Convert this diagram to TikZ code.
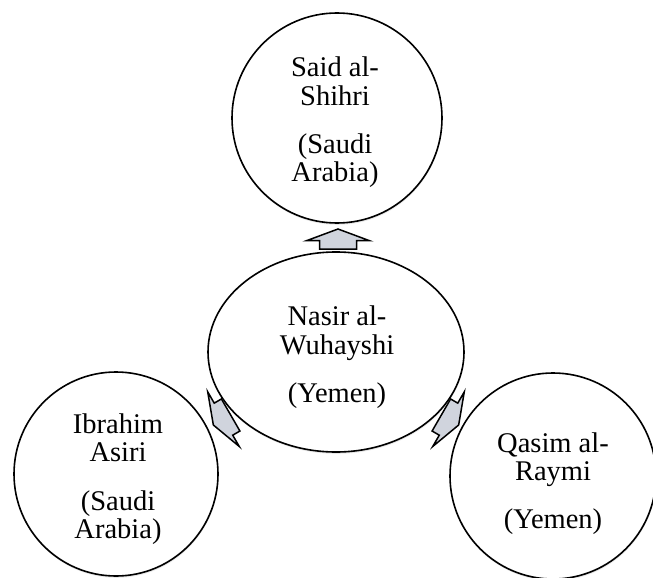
\documentclass[tikz,border=0pt]{standalone}
\usepackage{fontspec}
\setmainfont{Liberation Serif}
\usetikzlibrary{shapes.geometric,shadows}
\definecolor{arrowfill}{RGB}{208,212,221}
\begin{document}
\begin{tikzpicture}[x=1pt,y=-1pt,
  bubble/.style={draw=black, line width=1.6pt, fill=white, inner sep=0pt,
    drop shadow={opacity=0.18, shadow xshift=0.4pt, shadow yshift=-1.8pt}},
  ring/.style={bubble, circle},
  oval/.style={bubble, ellipse},
  nametext/.style={font=\fontsize{28.5}{28.5}\selectfont, anchor=base, inner sep=0pt},
  blockarrow/.style={draw=black, line width=1.5pt, fill=arrowfill, line join=miter}]
\useasboundingbox (0,0) rectangle (653,578);
% block arrows (drawn first, tails tucked under the central oval)
\begin{scope}[shift={(338,239)}]
  \draw[blockarrow] (0,-10) -- (31.5,1.7) -- (18.5,1.7) -- (18.5,10) -- (-18.5,10) -- (-18.5,1.7) -- (-31.5,1.7) -- cycle;
\end{scope}
\begin{scope}[shift={(222,420)}, rotate=120]
  \draw[blockarrow] (0,-10) -- (31.5,1.7) -- (18.5,1.7) -- (18.5,10) -- (-18.5,10) -- (-18.5,1.7) -- (-31.5,1.7) -- cycle;
\end{scope}
\begin{scope}[shift={(450,420)}, rotate=-120]
  \draw[blockarrow] (0,-10) -- (31.5,1.7) -- (18.5,1.7) -- (18.5,10) -- (-18.5,10) -- (-18.5,1.7) -- (-31.5,1.7) -- cycle;
\end{scope}
% shapes
\node[ring, minimum size=210pt] (said) at (337,118) {};
\node[oval, minimum width=256pt, minimum height=200pt] (nasir) at (336,352) {};
\node[ring, minimum size=204pt] (ibrahim) at (116,474) {};
\node[ring, minimum size=206pt] (qasim) at (553,476) {};
% texts
\node[nametext] (saidT) at (335,76.7) {\begin{tabular}[t]{@{}c@{}}Said al-\\Shihri\\[19.5pt](Saudi\\Arabia)\end{tabular}};
\node[nametext] (nasirT) at (337,325.7) {\begin{tabular}[t]{@{}c@{}}Nasir al-\\Wuhayshi\\[20pt](Yemen)\end{tabular}};
\node[nametext] (ibrahimT) at (118,433) {\begin{tabular}[t]{@{}c@{}}Ibrahim\\Asiri\\[20pt](Saudi\\Arabia)\end{tabular}};
\node[nametext] (qasimT) at (553,452) {\begin{tabular}[t]{@{}c@{}}Qasim al-\\Raymi\\[19pt](Yemen)\end{tabular}};
\end{tikzpicture}
\end{document}
